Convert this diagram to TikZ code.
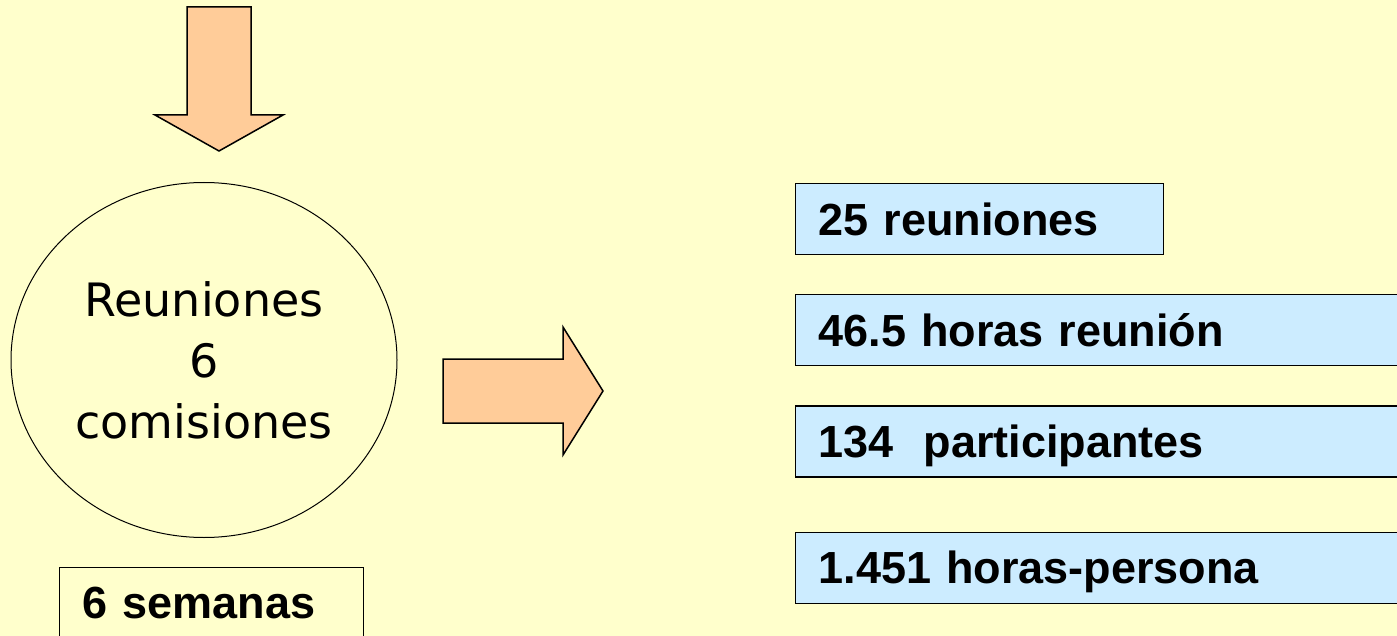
\documentclass[tikz,border=0pt]{standalone}
\usepackage{fontspec}
\setmainfont{Liberation Sans}
\newfontfamily\circfont{DejaVu Sans}
\usetikzlibrary{positioning,shapes.geometric}
\definecolor{fondo}{HTML}{FFFFCC}
\definecolor{flecha}{HTML}{FFCC99}
\definecolor{celeste}{HTML}{CCECFF}
\tikzset{
  dato/.style={draw, line width=1.2pt, fill=celeste, inner xsep=23pt, inner ysep=0pt,
    text height=32pt, text depth=0pt, minimum height=71pt, align=left,
    font=\fontsize{45}{54}\selectfont\bfseries},
  bloque/.style={draw, line width=1.5pt, fill=flecha, line join=miter}
}
\begin{document}
\begin{tikzpicture}[x=1pt, y=-1pt]
    % Fondo
    \useasboundingbox (0,0) rectangle (1397,636);
    \clip (0,0) rectangle (1397,636);
    \fill[fondo] (0,0) rectangle (1397,636);

    % Flecha de entrada
    \draw[bloque] (187,7) -- (251,7) -- (251,115) -- (283,115) -- (219,151)
        -- (155,115) -- (187,115) -- cycle;

    % Comisiones
    \node[draw, ellipse, line width=1pt, minimum width=386pt, minimum height=355pt,
        align=center, font=\circfont\fontsize{46}{61}\selectfont]
        (reuniones) at (204,360) {Reuniones\\6\\comisiones};
    \node[draw, line width=1.2pt, inner xsep=23pt, inner ysep=0pt, text height=32pt,
        text depth=0pt, minimum height=70pt, minimum width=304pt, text width=258pt,
        align=left, anchor=north west, font=\fontsize{45}{54}\selectfont\bfseries]
        (semanas) at (59,567) {6 semanas};

    % Flecha de salida
    \draw[bloque] (443,359) -- (563,359) -- (563,327) -- (603,391) -- (563,455)
        -- (563,423) -- (443,423) -- cycle;

    % Resultados
    \node[dato, anchor=north west, minimum width=368pt, text width=322pt]
        (nreun) at (795,183) {25 reuniones};
    \node[dato, below=39pt of nreun.south west, anchor=north west, minimum width=700pt,
        text width=654pt] (horas) {46.5 horas reunión};
    \node[dato, below=39pt of horas.south west, anchor=north west, minimum width=700pt,
        text width=654pt] (partic) {134\ \ participantes};
    \node[dato, below=54pt of partic.south west, anchor=north west, minimum width=700pt,
        text width=654pt] (hpers) {1.451 horas-persona};
\end{tikzpicture}
\end{document}
